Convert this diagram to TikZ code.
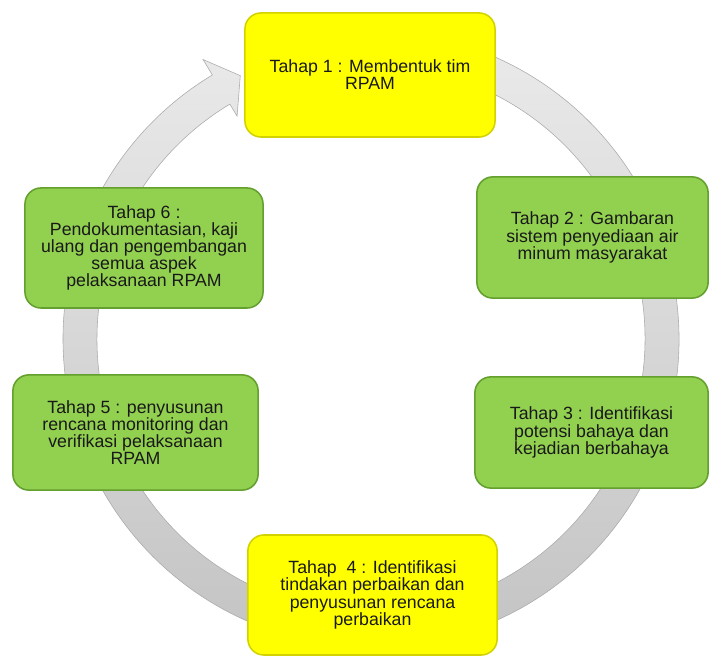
\documentclass[tikz,border=0pt]{standalone}
\usepackage{fontspec}
\setmainfont{Liberation Sans}
\usetikzlibrary{calc}
\definecolor{stgreen}{RGB}{146,208,80}
\definecolor{stgreenD}{RGB}{100,160,45}
\definecolor{styellow}{RGB}{255,255,0}
\definecolor{styellowD}{RGB}{210,210,0}
\definecolor{ringT}{RGB}{236,236,236}
\definecolor{ringB}{RGB}{194,194,194}
\definecolor{ringD}{RGB}{170,170,170}
\begin{document}
\begin{tikzpicture}[x=0.025cm,y=0.025cm,font=\fontsize{12.6}{12.2}\selectfont,stage/.style={draw=#1D,fill=#1,line width=1.1pt,rounded corners=0.4cm,align=center,inner sep=2pt,text=black!90},stage/.default=stgreen]
\useasboundingbox (0,0) rectangle (710,656);
\coordinate (c) at (371,317);
% ring arrow
\shadedraw[top color=ringT,bottom color=ringB,draw=ringD,line width=0.4pt]
 ($(c)+(100:308)$) arc[start angle=100,end angle=-239,radius=308]
 -- ($(c)+(-239:326)$) -- ($(c)+(-243.6:294)$) -- ($(c)+(-239:260)$)
 -- ($(c)+(-239:274)$) arc[start angle=-239,end angle=100,radius=274] -- cycle;
% stages
\node[stage=styellow,minimum width=6.25cm,minimum height=3.1cm](s1) at (370,581){Tahap 1 : Membentuk tim\\RPAM};
\node[stage,minimum width=5.78cm,minimum height=3.03cm](s2) at (592.5,418.5){Tahap 2 : Gambaran\\sistem penyediaan air\\minum masyarakat};
\node[stage,minimum width=5.83cm,minimum height=2.78cm](s3) at (591.5,223.5){Tahap 3 : Identifikasi\\potensi bahaya dan\\kejadian berbahaya};
\node[stage=styellow,minimum width=6.23cm,minimum height=3.0cm](s4) at (372.5,61){Tahap~~4 : Identifikasi\\tindakan perbaikan dan\\penyusunan rencana\\perbaikan};
\node[stage,minimum width=6.13cm,minimum height=2.88cm](s5) at (135.5,223.5){Tahap 5 : penyusunan\\rencana monitoring dan\\verifikasi pelaksanaan\\RPAM};
\node[stage,minimum width=5.95cm,minimum height=3.0cm](s6) at (144,408){Tahap 6 :\\Pendokumentasian, kaji\\ulang dan pengembangan\\semua aspek\\pelaksanaan RPAM};
\end{tikzpicture}
\end{document}
